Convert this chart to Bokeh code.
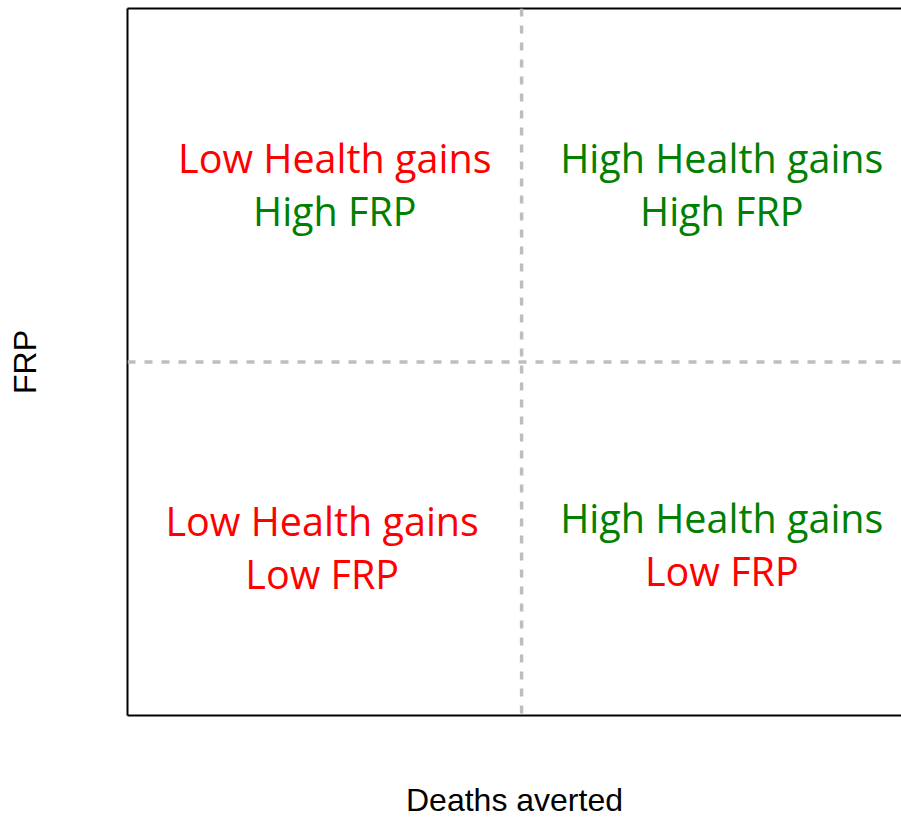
from bokeh.plotting import figure
from bokeh.models import Range1d, Span, ColumnDataSource, LinearAxis, FixedTicker
from bokeh.core.properties import value
from bokeh.embed import file_html
from bokeh.resources import INLINE

# Quadrant label data
line_texts = ["Low Health gains", "High FRP",
              "High Health gains", "High FRP",
              "Low Health gains", "Low FRP",
              "High Health gains", "Low FRP"]
line_x = [0.263, 0.263, 0.754, 0.754, 0.247, 0.247, 0.754, 0.754]
line_y = [0.788, 0.713, 0.788, 0.713, 0.275, 0.200, 0.280, 0.204]
line_colors = ["#FF0000", "#008000", "#008000", "#008000",
               "#FF0000", "#FF0000", "#008000", "#FF0000"]

x_label = "Deaths averted"
y_label = "FRP"
x_mid = 0.5
y_mid = 0.5

p = figure(width=901, height=822, output_backend="svg", toolbar_location=None,
           x_range=Range1d(0, 0.982), y_range=Range1d(0, 1),
           min_border_left=127, min_border_right=0, min_border_top=8,
           min_border_bottom=107)
p.xgrid.visible = False
p.ygrid.visible = False
p.outline_line_color = None
p.background_fill_color = "white"
p.border_fill_color = "white"

top_axis = LinearAxis()
p.add_layout(top_axis, "above")
bottom_axis = p.below[0]
left_axis = p.left[0]

for ax in (bottom_axis, left_axis, top_axis):
    ax.ticker = FixedTicker(ticks=[])
    ax.major_tick_in = 0
    ax.major_tick_out = 0
    ax.minor_tick_in = 0
    ax.minor_tick_out = 0
    ax.axis_line_color = "black"
    ax.axis_line_width = 2
    ax.axis_label_text_font = "Liberation Sans"
    ax.axis_label_text_font_size = "32px"
    ax.axis_label_text_font_style = "normal"
    ax.axis_label_text_color = "black"
    ax.axis_label_text_line_height = 1.0

bottom_axis.axis_label = x_label
left_axis.axis_label = y_label
bottom_axis.axis_label_standoff = 66
left_axis.axis_label_standoff = 85

p.add_layout(Span(location=x_mid, dimension="height", line_color="#BEBEBE",
                  line_width=3.5, line_dash="8 9"))
p.add_layout(Span(location=y_mid, dimension="width", line_color="#BEBEBE",
                  line_width=3.5, line_dash="8 9"))

src = ColumnDataSource(dict(x=line_x, y=line_y, t=line_texts, c=line_colors))
p.text(x="x", y="y", text="t", text_color="c", source=src,
       text_font=value("Open Sans"), text_font_size="39.5px",
       text_align="center", text_baseline="middle")

open("out.html", "w").write(file_html(p, INLINE))
